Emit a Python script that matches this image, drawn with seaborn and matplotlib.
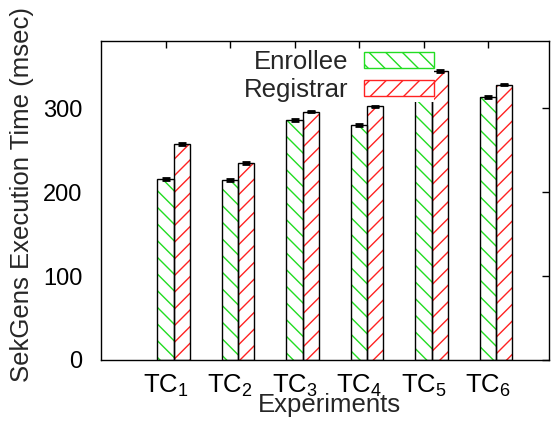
import numpy as np
import pandas as pd
import matplotlib
matplotlib.use("Agg")
import matplotlib.pyplot as plt
from matplotlib.patches import Rectangle, Patch
import seaborn as sns

experiments = ["TC1", "TC2", "TC3", "TC4", "TC5", "TC6"]
tick_labels = ["TC$_1$", "TC$_2$", "TC$_3$", "TC$_4$", "TC$_5$", "TC$_6$"]
enrollee = [216, 215, 286, 280, 325, 313]
registrar = [257, 235, 296, 302, 344, 328]
enrollee_err = [1.2, 1.2, 1.0, 1.0, 1.0, 1.2]
registrar_err = [1.0, 1.0, 1.0, 1.0, 1.0, 1.0]
series = ["Enrollee", "Registrar"]
hatch_colors = ["#22dd22", "#ff2222"]
hatches = ["\\\\", "//"]

sns.set_theme(style="white")
plt.rcParams["font.family"] = ["Liberation Sans", "DejaVu Sans"]
plt.rcParams["mathtext.fontset"] = "custom"
plt.rcParams["mathtext.rm"] = "Liberation Sans"
plt.rcParams["mathtext.it"] = "Liberation Sans:italic"
plt.rcParams["hatch.linewidth"] = 1.0

df = pd.DataFrame({
    "exp": experiments * 2,
    "time": enrollee + registrar,
    "role": [series[0]] * 6 + [series[1]] * 6,
})

fig = plt.figure(figsize=(5.53, 4.30), dpi=100)
ax = fig.add_axes([101 / 553, 70 / 430, 448 / 553, 319 / 430])

sns.barplot(data=df, x="exp", y="time", hue="role", hue_order=series,
            width=0.5, errorbar=None, legend=False, ax=ax, zorder=2)

errs = [enrollee_err, registrar_err]
vals = [enrollee, registrar]
bar_containers = list(ax.containers)
for k, cont in enumerate(bar_containers):
    xs = []
    for p in cont.patches:
        p.set_facecolor("white")
        p.set_edgecolor(hatch_colors[k])
        p.set_hatch(hatches[k])
        p.set_linewidth(0)
        ax.add_patch(Rectangle(p.get_xy(), p.get_width(), p.get_height(),
                               fill=False, edgecolor="black", linewidth=1.0,
                               zorder=3))
        xs.append(p.get_x() + p.get_width() / 2)
    ax.errorbar(xs, vals[k], yerr=errs[k], fmt="none", ecolor="black",
                elinewidth=1, capsize=3, capthick=2, zorder=4)

ax.set_ylim(0, 380)
ax.set_xlim(-1.125, 5.82)
ax.set_xticks(np.arange(6) - 0.125)
ax.set_xticklabels(tick_labels, fontsize=18.5)
ax.set_yticks([0, 100, 200, 300])
ax.set_yticklabels(["0", "100", "200", "300"], fontsize=17)
ax.tick_params(axis="y", direction="in", length=5, width=1, pad=13.5,
               right=True, colors="black", labelcolor="black")
ax.tick_params(axis="x", direction="in", length=5, width=1, pad=9.5,
               top=True, bottom=False, colors="black", labelcolor="black")
for s in ax.spines.values():
    s.set_color("black")
    s.set_linewidth(1.0)
    s.set_visible(True)

ax.set_xlabel("Experiments", fontsize=18.5)
ax.set_ylabel("SekGens Execution Time (msec)", fontsize=18.5)
ax.xaxis.set_label_coords(0.51, -0.102)
ax.yaxis.set_label_coords(-0.15, 0.52)

handles = [Patch(facecolor="white", edgecolor=hatch_colors[i], hatch=hatches[i],
                 linewidth=1) for i in range(2)]
fs = 18.5
em = fs * 100 / 72
leg = ax.legend(handles, series, loc="upper right",
                bbox_to_anchor=(434 / 553, 1 - 50 / 430),
                bbox_transform=fig.transFigure, markerfirst=False,
                fontsize=fs, handlelength=70 / em, handleheight=14 / em,
                handletextpad=16 / em, labelspacing=0.16, borderpad=0,
                borderaxespad=0, frameon=True, fancybox=False,
                framealpha=1, facecolor="white", edgecolor="none")

fig.savefig("out.png", dpi=100)
